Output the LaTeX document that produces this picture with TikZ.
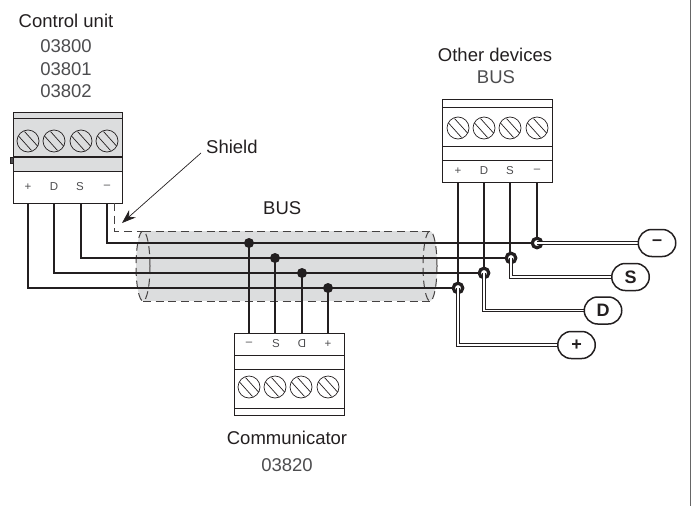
\documentclass[tikz,border=0pt]{standalone}
\usepackage{fontspec}
\setmainfont{Liberation Sans}
\usetikzlibrary{arrows.meta}
\definecolor{panel}{HTML}{DCDDDE}
\definecolor{ink}{HTML}{231F20}
\definecolor{soft}{HTML}{4D4D4F}
\tikzset{
  wire/.style={draw=ink,line width=2pt},
  dwire/.style={draw=ink,line width=3.6pt},
  dcore/.style={draw=white,line width=1.3pt},
  shell/.style={draw=ink!85,line width=1pt,dash pattern=on 8pt off 4.7pt},
  box/.style={draw=ink,line width=1pt},
  screw/.style={draw=ink,line width=0.7pt,fill=none},
  pin/.style={fill=ink,circle,inner sep=0pt,minimum size=10pt},
  ring/.style={draw=ink,fill=white,circle,inner sep=0pt,minimum size=9.5pt,line width=3.2pt},
  oval/.style={draw=ink,fill=white,line width=1.5pt,rounded corners=13.5pt,minimum width=37.5pt,minimum height=27pt,inner sep=0pt,font=\fontsize{18}{18}\selectfont\bfseries,text=ink},
  lbl/.style={font=\fontsize{18.5}{18.5}\selectfont,text=ink,inner sep=0pt},
  num/.style={font=\fontsize{18.5}{18.5}\selectfont,text=soft,inner sep=0pt},
  term/.style={font=\fontsize{11.5}{12}\selectfont,text=soft,inner sep=0pt}
}
\newcommand{\myscrew}[2]{%
  \draw[screw] (#1,#2) circle (11);
  \draw[screw] (#1-9.5,#2-5) -- (#1+3.5,#2+9.5);
  \draw[screw] (#1-3.5,#2-9.5) -- (#1+9.5,#2+5);
}
\begin{document}
\begin{tikzpicture}[x=1pt,y=-1pt]
\useasboundingbox (0,0) rectangle (695,506);
\draw[draw=black!60,line width=1.2pt] (690.5,0) -- (690.5,506);

% cable
\fill[panel] (143,231) rectangle (430,301);
\fill[panel] (143,266) ellipse [x radius=7,y radius=35];
\fill[panel] (430,266) ellipse [x radius=7,y radius=35];
\draw[shell] (143,231) -- (430,231);
\draw[shell] (143,301) -- (430,301);
\draw[shell] (143,266) ellipse [x radius=7,y radius=35];
\draw[shell] (430,266) ellipse [x radius=7,y radius=35];

% control unit
\fill[panel] (13,112) rectangle (122,171);
\draw[box,fill=soft] (10.5,157) rectangle (13,163);
\draw[box] (13,112) rectangle (122,203);
\draw[box] (13,118) -- (122,118);
\draw[box,line width=1.3pt] (13,157) -- (122,157);
\draw[box] (13,171) -- (122,171);
\myscrew{28}{141}\myscrew{54}{141}\myscrew{81}{141}\myscrew{107}{141}
\node[term] (cp) at (28,187) {+};
\node[term] (cd) at (54,187) {D};
\node[term] (cs) at (80,187) {S};
\node[term] (cm) at (107,187) {–};
\coordinate (c1) at (28,203);
\coordinate (c2) at (54,203);
\coordinate (c3) at (81,203);
\coordinate (c4) at (107,203);

% other devices
\draw[box] (442,99) rectangle (552,182);
\draw[box] (442,107) -- (552,107);
\draw[box] (442,146) -- (552,146);
\draw[box] (442,160) -- (552,160);
\myscrew{458}{128}\myscrew{484}{128}\myscrew{510}{128}\myscrew{537}{128}
\node[term] at (458,171) {+};
\node[term] at (484,171) {D};
\node[term] at (510,171) {S};
\node[term] at (537,171) {–};

% communicator
\draw[box] (234,333) rectangle (344,415);
\draw[box] (234,355) -- (344,355);
\draw[box] (234,369) -- (344,369);
\draw[box] (234,408) -- (344,408);
\myscrew{249}{387}\myscrew{275}{387}\myscrew{301}{387}\myscrew{328}{387}
\node[term] at (249,344) {–};
\node[term] at (276,344) {S};
\node[term,xscale=-1] at (302,344) {D};
\node[term] at (328,344) {+};

% junction points
\coordinate (jm) at (537,243);
\coordinate (js) at (511,258);
\coordinate (jd) at (484,273);
\coordinate (jp) at (458,288);

% bus wires
\draw[wire] (c4) |- (jm);
\draw[wire] (c3) |- (js);
\draw[wire] (c2) |- (jd);
\draw[wire] (c1) |- (jp);
\draw[wire] (249,333) -- (249,243);
\draw[wire] (275,333) -- (275,258);
\draw[wire] (302,333) -- (302,273);
\draw[wire] (328,333) -- (328,288);
\node[pin] (p1) at (249,243) {};
\node[pin] (p2) at (275,258) {};
\node[pin] (p3) at (302,273) {};
\node[pin] (p4) at (328,288) {};

% device drops
\draw[wire] (537,182) -- (jm);
\draw[wire] (510,182) -- (510,258);
\draw[wire] (484,182) -- (jd);
\draw[wire] (458,182) -- (jp);

% junction rings
\node[ring] (rm) at (jm) {};
\node[ring] (rs) at (js) {};
\node[ring] (rd) at (jd) {};
\node[ring] (rp) at (jp) {};

% ovals
\coordinate (om0) at (657,243);
\coordinate (os0) at (630.5,277);
\coordinate (od0) at (603,310.5);
\coordinate (op0) at (576.5,345);

% double lines
\draw[dwire] (jm) -- (om0);
\draw[dcore] (jm) -- (om0);
\draw[dwire] (js) |- (os0);
\draw[dcore] (js) |- (os0);
\draw[dwire] (jd) |- (od0);
\draw[dcore] (jd) |- (od0);
\draw[dwire] (jp) |- (op0);
\draw[dcore] (jp) |- (op0);
\node[oval] (om) at (om0) {–};
\node[oval] (os) at (os0) {S};
\node[oval] (od) at (od0) {D};
\node[oval] (op) at (op0) {+};

% shield
\coordinate (sh0) at (114,203);
\coordinate (sh1) at (143,231);
\draw[shell] (sh0) |- (sh1);
\node[lbl,anchor=west] (shield) at (206,147) {Shield};
\draw[-{Stealth[length=14pt,width=10pt]},line width=0.7pt,draw=ink] (201,153) -- (122,223);

% labels
\node[lbl] (t1) at (66,21) {Control unit};
\node[num] at (66,46) {03800};
\node[num] at (66,69) {03801};
\node[num] at (66,91) {03802};
\node[lbl] at (495,55) {Other devices};
\node[num] at (496,77) {BUS};
\node[lbl,anchor=west] at (263,208) {BUS};
\node[lbl] at (287,438) {Communicator};
\node[num] at (287,465) {03820};
\end{tikzpicture}
\end{document}
